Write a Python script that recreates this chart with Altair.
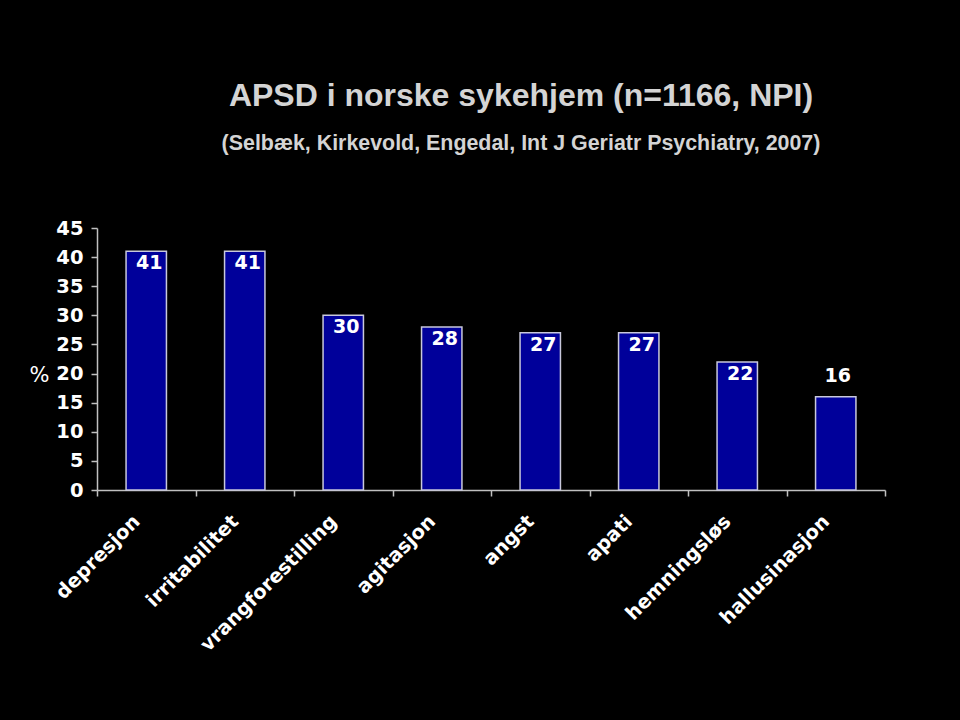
import altair as alt
import pandas as pd

categories = ["depresjon", "irritabilitet", "vrangforestilling", "agitasjon",
              "angst", "apati", "hemningsløs", "hallusinasjon"]
values = [41, 41, 30, 28, 27, 27, 22, 16]
y_ticks = [0, 5, 10, 15, 20, 25, 30, 35, 40, 45]

df = pd.DataFrame({"kategori": categories, "prosent": values})

x = alt.X("kategori:N", sort=categories,
          scale=alt.Scale(paddingInner=0, paddingOuter=0),
          axis=alt.Axis(title=None, labelAngle=-45, labelAlign="right",
                        labelBaseline="middle", labelPadding=22,
                        labelOffset=-10, labelLimit=400,
                        labelFont="DejaVu Sans", labelFontWeight="bold",
                        labelFontSize=19.5, labelColor="white",
                        tickBand="extent", tickSize=6, tickColor="#c0c0c0",
                        domainColor="#c0c0c0", domainWidth=1.5, tickWidth=1.5))
y = alt.Y("prosent:Q",
          scale=alt.Scale(domain=[0, 45], nice=False),
          axis=alt.Axis(values=y_ticks,
                        labelOverlap=False,
                        grid=False, title="%", titleAngle=0,
                        titleAlign="center", titleBaseline="middle",
                        titleX=-58, titleY=147, titleFont="DejaVu Sans",
                        titleFontWeight="normal", titleFontSize=21,
                        titleColor="white",
                        labelFont="DejaVu Sans", labelFontWeight="bold",
                        labelFontSize=19.5, labelColor="white", labelPadding=8,
                        tickSize=6, tickColor="#c0c0c0", domainColor="#c0c0c0",
                        domainWidth=1.5, tickWidth=1.5))

bars = alt.Chart(df).mark_bar(color="#00009a", stroke="#c8c8dc",
                              strokeWidth=1.5,
                              width=alt.RelativeBandSize(0.41)).encode(x=x, y=y)

labels_in = alt.Chart(df).transform_filter(alt.datum.prosent >= 20).mark_text(
    baseline="top", dy=3, dx=3, font="DejaVu Sans", fontWeight="bold",
    fontSize=19, color="white").encode(x=x, y=y, text="prosent:Q")

labels_out = alt.Chart(df).transform_filter(alt.datum.prosent < 20).mark_text(
    baseline="bottom", dy=-11, dx=2, font="DejaVu Sans", fontWeight="bold",
    fontSize=19, color="white").encode(x=x, y=y, text="prosent:Q")

chart = alt.layer(bars, labels_in, labels_out).properties(
    width=788, height=262,
    title=alt.TitleParams(
        text="APSD i norske sykehjem (n=1166, NPI)",
        subtitle="(Selbæk, Kirkevold, Engedal, Int J Geriatr Psychiatry, 2007)",
        anchor="middle", dx=30, offset=63,
        font="Liberation Sans", fontSize=32, fontWeight="bold",
        color="#d4d4d4",
        subtitleFont="Liberation Sans", subtitleFontSize=21.4,
        subtitleFontWeight="bold", subtitleColor="#d4d4d4",
        subtitlePadding=20),
    padding={"left": 97, "top": 228, "right": 75, "bottom": 230},
    autosize=alt.AutoSizeParams(type="none"),
    background="black",
).configure_view(stroke=None)

chart.save("out.html", embed_options={"renderer": "svg", "actions": False})
